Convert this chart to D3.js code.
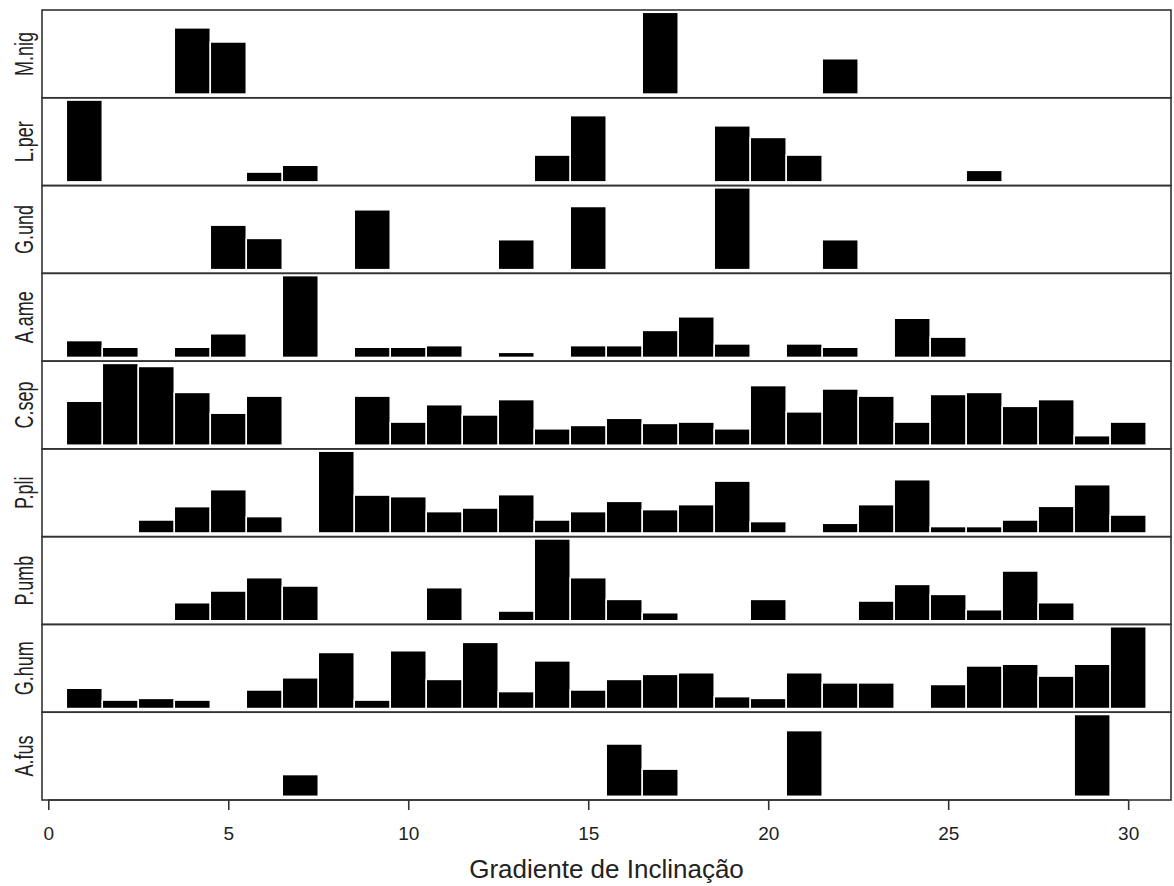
<!DOCTYPE html>
<html>
<head>
<meta charset="utf-8">
<script src="https://cdn.jsdelivr.net/npm/d3@7"></script>
<style>
  body { margin: 0; background: #fff; }
  svg { display: block; font-family: "Liberation Sans", Arial, sans-serif; }
</style>
</head>
<body>
<div id="chart"></div>
<script>
// slope classes 1..30, one value per class (0 = no record)
let slopes = d3.range(1, 31);
let xTicks = [0, 5, 10, 15, 20, 25, 30];
let species = ['M.nig', 'L.per', 'G.und', 'A.ame', 'C.sep', 'P.pli', 'P.umb', 'G.hum', 'A.fus'];

let mNig = [0, 0, 0, 65.6, 51.6, 0, 0, 0, 0, 0, 0, 0, 0, 0, 0, 0, 81, 0, 0, 0, 0, 35, 0, 0, 0, 0, 0, 0, 0, 0];
let lPer = [80.3, 0, 0, 0, 0, 9.6, 16.3, 0, 0, 0, 0, 0, 0, 26.3, 65, 0, 0, 0, 55, 43.6, 26.3, 0, 0, 0, 0, 11.3, 0, 0, 0, 0];
let gUnd = [0, 0, 0, 0, 44.6, 31.3, 0, 0, 60, 0, 0, 0, 30, 0, 63.3, 0, 0, 0, 82, 0, 0, 30, 0, 0, 0, 0, 0, 0, 0, 0];
let aAme = [16.6, 10, 0, 10, 23.3, 0, 80.6, 0, 10, 10, 11.6, 0, 5, 0, 11.6, 11.6, 26.6, 40, 13.3, 0, 13.3, 10, 0, 38.6, 20, 0, 0, 0, 0, 0];
let cSep = [43, 80, 77, 51.6, 31.3, 48, 0, 0, 48, 22.6, 39.6, 29.6, 44.6, 16, 19.3, 26.3, 21.3, 22.6, 16, 58.3, 32.6, 55, 48, 22.6, 49.6, 51.6, 38, 44.6, 9.3, 22.6];
let pPli = [0, 0, 13, 26.4, 43.4, 16.4, 0, 82, 38, 36.4, 21.4, 25, 38.4, 13, 21.4, 31.7, 23.4, 28.4, 52, 11.4, 0, 9.7, 28.4, 53.4, 6.4, 6.4, 13, 26.7, 48.4, 18];
let pUmb = [0, 0, 0, 18, 29.7, 43, 34.7, 0, 0, 0, 33, 0, 9.7, 81.7, 43, 21.3, 8, 0, 0, 21.3, 0, 0, 19.7, 36.3, 26.3, 11, 49.7, 18, 0, 0];
let gHum = [20, 8.3, 10, 8.3, 0, 18.3, 30.3, 55.3, 8.3, 57, 28.7, 65.3, 16.7, 47, 18.3, 28.7, 33.7, 35.3, 11.7, 10, 35.3, 25.3, 25.3, 0, 23.7, 42, 43.7, 32, 43.7, 80.7];
let aFus = [0, 0, 0, 0, 0, 0, 21.6, 0, 0, 0, 0, 0, 0, 0, 0, 52, 27, 0, 0, 0, 65.3, 0, 0, 0, 0, 0, 0, 0, 81.3, 0];

let series = [mNig, lPer, gUnd, aAme, cSep, pPli, pUmb, gHum, aFus];
let xLabel = 'Gradiente de Inclinação';

let width = 1174, height = 886;
let plotLeft = 42, plotRight = 1171, plotTop = 10, plotBottom = 800;
let panelH = (plotBottom - plotTop) / species.length;

let svg = d3.select('#chart').append('svg').attr('width', width).attr('height', height);

let x = d3.scaleLinear().domain([-0.175, 31.19]).range([plotLeft, plotRight]);

species.forEach(function(name, i) {
    let y0 = plotTop + i * panelH;
    let values = series[i];
    let y = d3.scaleLinear().domain([0, d3.max(values)]).range([y0 + panelH - 3.7, y0 + 2.3]);
    let g = svg.append('g');

    g.selectAll('rect').
        data(slopes.map((s, j) => ({slope: s, value: values[j]})).filter(d => d.value > 0)).
        enter().
        append('rect').
        attr('x', d => x(d.slope - 0.5)).
        attr('width', d => x(d.slope + 0.5) - x(d.slope - 0.5)).
        attr('y', d => y(d.value)).
        attr('height', d => y(0) - y(d.value)).
        attr('fill', '#000').
        attr('stroke', '#fff').
        attr('stroke-width', 1.5);

    g.append('rect').
        attr('x', plotLeft).attr('y', y0).
        attr('width', plotRight - plotLeft).attr('height', panelH).
        attr('fill', 'none').attr('stroke', '#333').attr('stroke-width', 1.6);

    g.append('text').
        attr('transform', 'translate(33,' + (y0 + panelH / 2) + ') rotate(-90) scale(1,1.4)').
        attr('text-anchor', 'middle').
        attr('font-size', 18).
        attr('fill', '#222').
        text(name);
});

let axis = d3.axisBottom(x).tickValues(xTicks).tickSize(10).tickPadding(17).tickSizeOuter(0);
let ax = svg.append('g').attr('transform', 'translate(0,' + plotBottom + ')').call(axis);
ax.select('.domain').attr('stroke', '#333').attr('stroke-width', 1.6).attr('d', 'M' + x(0) + ',0H' + x(30));
ax.selectAll('.tick line').attr('stroke', '#333').attr('stroke-width', 1.6);
ax.selectAll('.tick text').attr('font-size', 19).attr('fill', '#222').attr('font-family', '"Liberation Sans", Arial, sans-serif');

svg.append('text').
    attr('x', (plotLeft + plotRight) / 2).
    attr('y', 878).
    attr('text-anchor', 'middle').
    attr('font-size', 26).
    attr('fill', '#222').
    text(xLabel);
</script>
</body>
</html>
